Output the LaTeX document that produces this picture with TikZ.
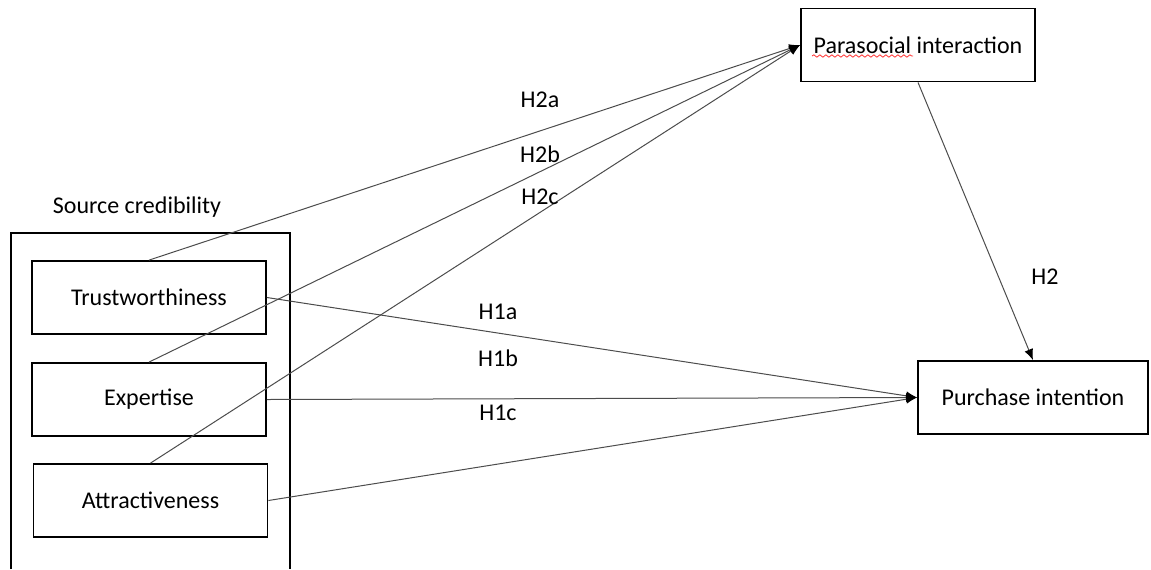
\documentclass[tikz,border=0pt]{standalone}
\usepackage{fontspec}
\setmainfont{Carlito}
\usetikzlibrary{arrows.meta,decorations.pathmorphing}
\begin{document}
\begin{tikzpicture}[x=0.5pt,y=-0.5pt,>={Latex[length=5.5pt,width=4.5pt,color=black]},
  every node/.style={font=\fontsize{12}{14}\selectfont},
  box/.style={draw,line width=0.9pt,minimum width=117pt,minimum height=36.5pt,inner sep=0pt},
  link/.style={->,draw=black!70,line width=0.5pt}]

\useasboundingbox (0,0) rectangle (1151,569);

% Source credibility group
\node (credlabel) at (137,207) {Source credibility};
\draw[line width=0.9pt] (11,569) |- (290,233) -- (290,569);

%% The three source dimensions
\node[box] (trust) at (149,297.5) {Trustworthiness};
\node[box] (exp) at (149,399.5) {Expertise};
\node[box] (attr) at (150.5,500.5) {Attractiveness};

%% Outcomes
\node[box] (para) at (918,45) {Parasocial interaction};
\node[box,minimum width=115pt] (purch) at (1033,397.5) {Purchase intention};
\draw[red!80,decorate,decoration={snake,amplitude=0.6pt,segment length=3pt}] (812,56) -- (913,56);

%% H2 paths to parasocial interaction
\draw[link] (trust.north) -- (para.west);
\draw[link] (exp.north) -- (para.west);
\draw[link] (attr.north) -- (para.west);
\draw[link] (para.south) -- (purch.north);

%% H1 paths to purchase intention
\draw[link] (trust.east) -- (purch.west);
\draw[link] (exp.east) -- (purch.west);
\draw[link] (attr.east) -- (purch.west);

%% Hypothesis labels
\node (h2a) at (540,100) {H2a};
\node (h2b) at (540,154) {H2b};
\node (h2c) at (540,197) {H2c};
\node (h2) at (1045,277) {H2};
\node (h1a) at (498,312) {H1a};
\node (h1b) at (498,358) {H1b};
\node (h1c) at (498,413) {H1c};

\end{tikzpicture}
\end{document}
